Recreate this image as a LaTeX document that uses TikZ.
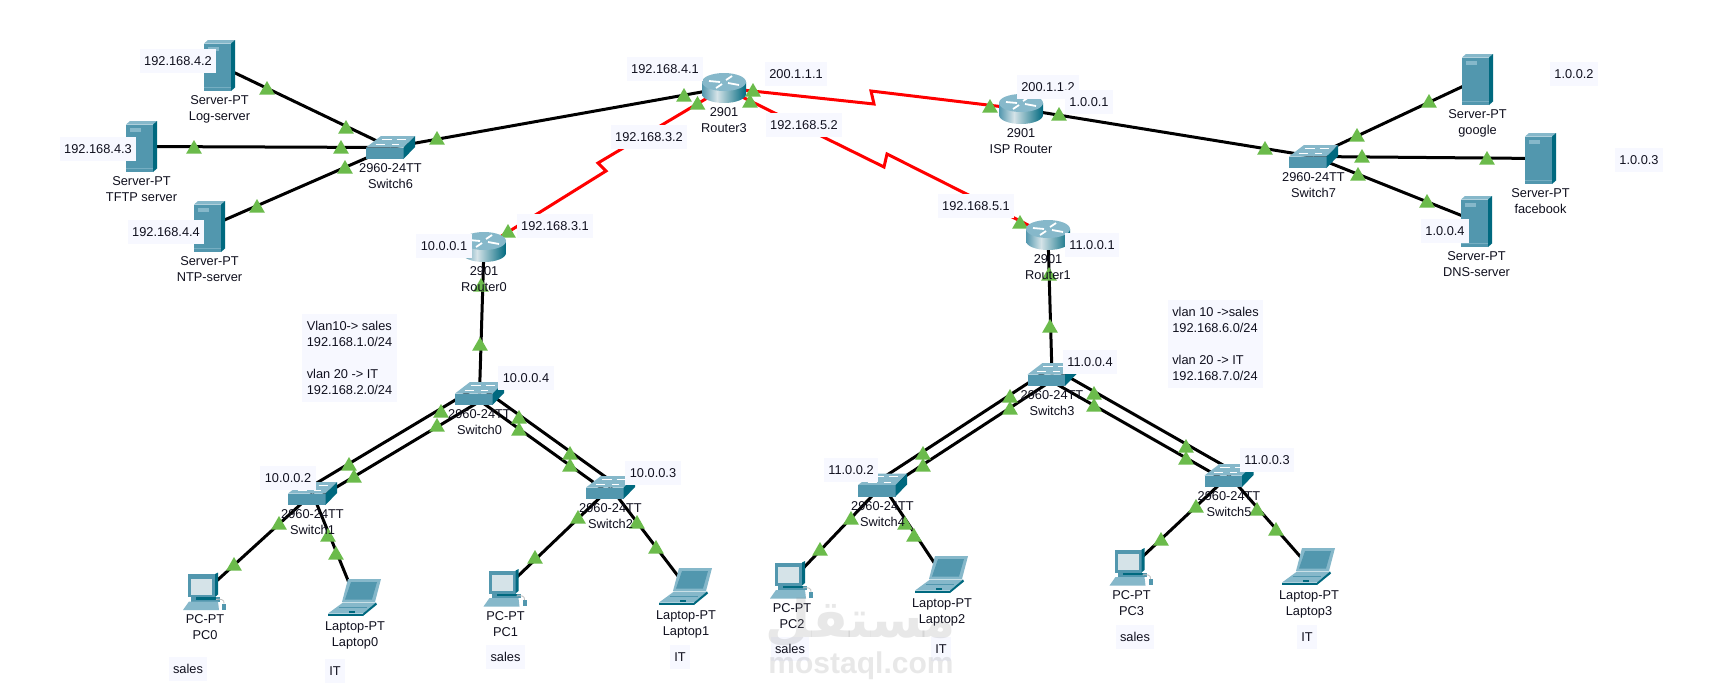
\documentclass[tikz,border=0pt]{standalone}
\usepackage{fontspec}
\setmainfont{Liberation Sans}
\newfontfamily\arabicfont[Script=Arabic]{DejaVu Sans}
\TeXXeTstate=1
\usetikzlibrary{shapes.geometric, positioning}
\definecolor{ptfront}{HTML}{5297AE}
\definecolor{pttop}{HTML}{86B8CA}
\definecolor{ptside}{HTML}{00697F}
\definecolor{ptscreen}{HTML}{D5E3E8}
\definecolor{lampgreen}{HTML}{6BBB4B}
\definecolor{boxtint}{HTML}{F7F8FF}
\definecolor{inktext}{HTML}{10101E}
\pgfdeclarehorizontalshading{routerbody}{100bp}{
  color(0bp)=(ptfront);
  color(25bp)=(ptfront);
  color(42bp)=(ptscreen);
  color(75bp)=(ptside);
  color(100bp)=(ptside)
}
\tikzstyle{device} = [
  inner sep=0,
  minimum size=0
]
\tikzstyle{caption} = [
  inner sep=0,
  align=center,
  text=inktext,
  font=\fontsize{12.8}{16}\selectfont
]
\tikzstyle{addr} = [
  fill=boxtint,
  inner sep=0,
  inner xsep=4.5pt,
  minimum height=24pt,
  text=inktext,
  font=\fontsize{12.8}{16}\selectfont
]
\tikzstyle{vlanbox} = [
  fill=boxtint,
  inner sep=4pt,
  align=left,
  minimum width=95pt,
  minimum height=88pt,
  text=inktext,
  font=\fontsize{12.8}{16}\selectfont
]
\tikzstyle{lamp} = [
  regular polygon,
  regular polygon sides=3,
  fill=lampgreen,
  inner sep=0,
  minimum size=18pt,
  yshift=-2pt
]
\tikzstyle{wire} = [
  line width=3pt,
  black
]
\tikzstyle{serial} = [
  line width=3pt,
  red,
  line join=miter
]
\tikzset{
  serverpt/.pic={
    \fill [ptfront] (-15.5,-22) rectangle (11.5,25.5);
    \fill [pttop] (-15.5,-22) -- (-11.5,-25.5) -- (15.5,-25.5) -- (11.5,-22) -- cycle;
    \fill [ptside] (11.5,-22) -- (15.5,-25.5) -- (15.5,22) -- (11.5,25.5) -- cycle;
    \fill [pttop] (-12,-19) rectangle (-1,-15);
    \fill [pttop!70!ptfront] (-15.5,21) rectangle (11.5,22);
  },
  switchpt/.pic={
    \fill [pttop] (-24.5,0) -- (-9.5,-11.5) -- (24.5,-11.5) -- (13,0) -- cycle;
    \fill [ptfront] (-24.5,0) rectangle (13,11.5);
    \fill [ptside] (13,0) -- (24.5,-11.5) -- (24.5,-0.5) -- (13,11.5) -- cycle;
    \draw [white, line width=1pt] (-9,-8.5) -- (1,-8.5) (6,-8.5) -- (15,-8.5) (-15,-3) -- (-6,-3) (1,-3) -- (8,-3);
  },
  routerpt/.pic={
    \path [shading=routerbody] (-22,-6) -- (-22,6) arc [start angle=180, end angle=0, x radius=22, y radius=9] -- (22,-6) -- cycle;
    \fill [pttop] (0,-6) ellipse [x radius=22, y radius=9];
    \draw [white, line width=1.8pt] (-15,-7) -- (-4,-6) (4,-5) -- (15,-3) (2,-8) -- (8,-12) (-2,-4) -- (-8,0);
  },
  pcpt/.pic={
    \fill [ptfront] (-14,5.5) rectangle (15,10);
    \fill [ptside] (-9,5.5) rectangle (11,8);
    \fill [pttop] (-22,18.5) -- (-16,10) -- (13,10) -- (14,18.5) -- cycle;
    \fill [ptfront] (-17,-17.5) rectangle (10,5.5);
    \fill [ptside] (10,-17.5) -- (13,-19) -- (13,3) -- (10,5.5) -- cycle;
    \fill [ptscreen] (-14,-13) rectangle (7,3);
    \fill [ptfront] (17,12) rectangle (21,18);
    \draw [gray!50, line width=.8pt] (19,12) .. controls (20,8) and (15,7) .. (11,8);
  },
  laptoppt/.pic={
    \fill [pttop] (-7,-18.5) -- (26,-18.5) -- (20,4.5) -- (-13,4.5) -- cycle;
    \fill [ptfront] (-4,-15.5) -- (22,-15.5) -- (17,2) -- (-10,2) -- cycle;
    \fill [pttop] (-27,16) -- (-12,5) -- (21,5) -- (8,16) -- cycle;
    \fill [ptside] (-27,16) -- (8,16) -- (8,18.5) -- (-27,18.5) -- cycle;
    \fill [ptside] (8,16) -- (21,5) -- (22,7) -- (8,18.5) -- cycle;
    \fill [ptfront] (-16,9) rectangle (12,10.5);
    \fill [ptside] (-6,13) rectangle (0,15);
  }
}

\begin{document}
\begin{tikzpicture}[x=1pt,y=-1pt]
      \useasboundingbox [fill=white] (0,0) rectangle (1724,694);

      \node [device] (srvlog) at (219.5,65.5) {};
      \node [device] (srvtftp) at (141.5,146.5) {};
      \node [device] (srvntp) at (209.5,226.5) {};
      \node [device] (srvgoogle) at (1477.5,79.5) {};
      \node [device] (srvfb) at (1540.5,158.5) {};
      \node [device] (srvdns) at (1476.5,221.5) {};
      \node [device] (sw0) at (479.5,393.5) {};
      \node [device] (sw1) at (312.5,493.5) {};
      \node [device] (sw2) at (610.5,487.5) {};
      \node [device] (sw3) at (1052,374.5) {};
      \node [device] (sw4) at (882.5,485) {};
      \node [device] (sw5) at (1229,475.5) {};
      \node [device] (sw6) at (390.5,147.5) {};
      \node [device] (sw7) at (1313.5,156.5) {};
      \node [device] (router0) at (484,247) {};
      \node [device] (router1) at (1048,235) {};
      \node [device] (router3) at (724,88) {};
      \node [device] (isp) at (1021,109) {};
      \node [device] (pc0) at (205,591.5) {};
      \node [device] (pc1) at (505.5,588) {};
      \node [device] (pc2) at (792,580) {};
      \node [device] (pc3) at (1131.5,567) {};
      \node [device] (lap0) at (355,597.5) {};
      \node [device] (lap1) at (686,586.5) {};
      \node [device] (lap2) at (942,574.5) {};
      \node [device] (lap3) at (1309,566.5) {};
      \coordinate (kinkAa) at (598,163);
      \coordinate (kinkAb) at (606,171);
      \coordinate (kinkBa) at (874,104);
      \coordinate (kinkBb) at (871,91);
      \coordinate (kinkCa) at (884,167);
      \coordinate (kinkCb) at (887,154);

      \draw [wire] (srvlog) -- (sw6);
      \draw [wire] (srvtftp) -- (sw6);
      \draw [wire] (srvntp) -- (sw6);
      \draw [wire] (sw6) -- (router3);
      \draw [wire] (isp) -- (sw7);
      \draw [wire] (sw7) -- (srvgoogle);
      \draw [wire] (sw7) -- (srvfb);
      \draw [wire] (sw7) -- (srvdns);
      \draw [wire] (router0) -- (sw0);
      \draw [wire] (router1) -- (sw3);
      \draw [wire] ([yshift=8pt]sw0.center) -- ([yshift=8pt]sw1.center);
      \draw [wire] ([yshift=-8pt]sw0.center) -- ([yshift=-8pt]sw1.center);
      \draw [wire] ([yshift=7pt]sw0.center) -- ([yshift=7pt]sw2.center);
      \draw [wire] ([yshift=-7pt]sw0.center) -- ([yshift=-7pt]sw2.center);
      \draw [wire] ([yshift=7pt]sw3.center) -- ([yshift=7pt]sw4.center);
      \draw [wire] ([yshift=-6pt]sw3.center) -- ([yshift=-6pt]sw4.center);
      \draw [wire] ([yshift=7pt]sw3.center) -- ([yshift=7pt]sw5.center);
      \draw [wire] ([yshift=-7pt]sw3.center) -- ([yshift=-7pt]sw5.center);
      \draw [wire] (sw1) -- (pc0);
      \draw [wire] (sw1) -- (lap0);
      \draw [wire] (sw2) -- (pc1);
      \draw [wire] (sw2) -- (lap1);
      \draw [wire] (sw4) -- (pc2);
      \draw [wire] (sw4) -- (lap2);
      \draw [wire] (sw5) -- (pc3);
      \draw [wire] (sw5) -- (lap3);
      \draw [serial] (router3) -- (kinkAa) -- (kinkAb) -- (router0);
      \draw [serial] (router3) -- (kinkBa) -- (kinkBb) -- (isp);
      \draw [serial] (router3) -- (kinkCa) -- (kinkCb) -- (router1);

      \foreach \lx/\ly [count=\li] in {267/88,346/127,194/147,341/147,257/206,345/167,437/138,684/95,
        697.5/103,508/231,753/90,990/106,750/101,1020/222,1059/114,1265/148,
        1357/135,1429/101,1362/156,1487/158,1358/174,1427/201,481/285,480/344,1049/274,1050/326,
        441/411,437/425,349/464,354/476,519/417,519/429,570/453,570/465,
        279/523,234/564,328/535,336/553,578/517,535/557,637/522,656/547,
        1010/396,1010/408,923/453,923/465,1094/393,1094/405,1186/446,1186/458,
        851/518,820/549,905/523,914/535,1196/506,1161/539,1257/509,1276/529}
        \node [lamp] (lamp\li) at (\lx,\ly) {};

      \foreach \dev in {srvlog,srvtftp,srvntp,srvgoogle,srvfb,srvdns}
        \pic at (\dev) {serverpt};
      \foreach \dev in {sw0,sw1,sw2,sw3,sw4,sw5,sw6,sw7}
        \pic at (\dev) {switchpt};
      \foreach \dev in {router0,router1,router3,isp}
        \pic at (\dev) {routerpt};
      \foreach \dev in {pc0,pc1,pc2,pc3}
        \pic at (\dev) {pcpt};
      \foreach \dev in {lap0,lap1,lap2,lap3}
        \pic at (\dev) {laptoppt};

      \node [addr] (ipsrvlog) at (178,61) {192.168.4.2};
      \node [addr] (ipsrvtftp) at (98,149) {192.168.4.3};
      \node [addr] (ipsrvntp) at (166,232) {192.168.4.4};
      \node [addr] (ipr3a) at (665,69) {192.168.4.1};
      \node [addr] (ipr3b) at (649,137) {192.168.3.2};
      \node [addr] (ipr3c) at (804,125) {192.168.5.2};
      \node [addr] (ipr3d) at (796,74) {200.1.1.1};
      \node [addr] (ipispa) at (1048,87) {200.1.1.2};
      \node [addr] (ipispb) at (1089,102) {1.0.0.1};
      \node [addr] (ipgoogle) at (1574,74) {1.0.0.2};
      \node [addr] (ipfb) at (1639,160) {1.0.0.3};
      \node [addr] (ipdns) at (1445,231) {1.0.0.4};
      \node [addr] (ipr0a) at (444,246) {10.0.0.1};
      \node [addr] (ipr0b) at (555,226) {192.168.3.1};
      \node [addr] (ipr1a) at (976,206) {192.168.5.1};
      \node [addr] (ipr1b) at (1092,245) {11.0.0.1};
      \node [addr] (ipsw0) at (526,378) {10.0.0.4};
      \node [addr] (ipsw1) at (288,478) {10.0.0.2};
      \node [addr] (ipsw2) at (653,473) {10.0.0.3};
      \node [addr] (ipsw3) at (1090,362) {11.0.0.4};
      \node [addr] (ipsw4) at (851,470) {11.0.0.2};
      \node [addr] (ipsw5) at (1267,460) {11.0.0.3};
      \node [addr] (tagpc0) at (188,669) {sales};
      \node [addr] (taglap0) at (335,671) {IT};
      \node [addr] (tagpc1) at (505.5,657) {sales};
      \node [addr] (taglap1) at (680,657) {IT};
      \node [addr] (tagpc2) at (790,649) {sales};
      \node [addr] (taglap2) at (941,649) {IT};
      \node [addr] (tagpc3) at (1135,637) {sales};
      \node [addr] (taglap3) at (1307,637) {IT};
      \node [vlanbox] (vlanleft) at (349.5,358) {Vlan10-> sales\\192.168.1.0/24\\[16pt]vlan 20 -> IT\\192.168.2.0/24};
      \node [vlanbox] (vlanright) at (1215.5,344) {vlan 10 ->sales\\192.168.6.0/24\\[16pt]vlan 20 -> IT\\192.168.7.0/24};

      \node [caption, below=30pt of srvlog] (capsrvlog) {Server-PT\\Log-server};
      \node [caption, below=30pt of srvtftp] (capsrvtftp) {Server-PT\\TFTP server};
      \node [caption, below=30pt of srvntp] (capsrvntp) {Server-PT\\NTP-server};
      \node [caption, below=30pt of srvgoogle] (capsrvgoogle) {Server-PT\\google};
      \node [caption, below=30pt of srvfb] (capsrvfb) {Server-PT\\facebook};
      \node [caption, below=30pt of srvdns] (capsrvdns) {Server-PT\\DNS-server};
      \node [caption, below=16pt of sw0] (capsw0) {2960-24TT\\Switch0};
      \node [caption, below=16pt of sw1] (capsw1) {2960-24TT\\Switch1};
      \node [caption, below=16pt of sw2] (capsw2) {2960-24TT\\Switch2};
      \node [caption, below=16pt of sw3] (capsw3) {2960-24TT\\Switch3};
      \node [caption, below=16pt of sw4] (capsw4) {2960-24TT\\Switch4};
      \node [caption, below=16pt of sw5] (capsw5) {2960-24TT\\Switch5};
      \node [caption, below=16pt of sw6] (capsw6) {2960-24TT\\Switch6};
      \node [caption, below=16pt of sw7] (capsw7) {2960-24TT\\Switch7};
      \node [caption, below=19.5pt of router0] (caprouter0) {2901\\Router0};
      \node [caption, below=19.5pt of router1] (caprouter1) {2901\\Router1};
      \node [caption, below=19.5pt of router3] (caprouter3) {2901\\Router3};
      \node [caption, below=19.5pt of isp] (capisp) {2901\\ISP Router};
      \node [caption, below=23pt of pc0] (cappc0) {PC-PT\\PC0};
      \node [caption, below=23pt of pc1] (cappc1) {PC-PT\\PC1};
      \node [caption, below=23pt of pc2] (cappc2) {PC-PT\\PC2};
      \node [caption, below=23pt of pc3] (cappc3) {PC-PT\\PC3};
      \node [caption, below=24pt of lap0] (caplap0) {Laptop-PT\\Laptop0};
      \node [caption, below=24pt of lap1] (caplap1) {Laptop-PT\\Laptop1};
      \node [caption, below=24pt of lap2] (caplap2) {Laptop-PT\\Laptop2};
      \node [caption, below=24pt of lap3] (caplap3) {Laptop-PT\\Laptop3};

      \node [inner sep=0, text=gray, opacity=.18, font=\fontsize{52}{52}\selectfont\arabicfont\bfseries] (markar) at (861,622) {\beginR مستقل\endR};
      \node [inner sep=0, text=gray, opacity=.18, font=\fontsize{30}{30}\selectfont\bfseries] (markla) at (861,666) {mostaql.com};
    \end{tikzpicture}
\end{document}
